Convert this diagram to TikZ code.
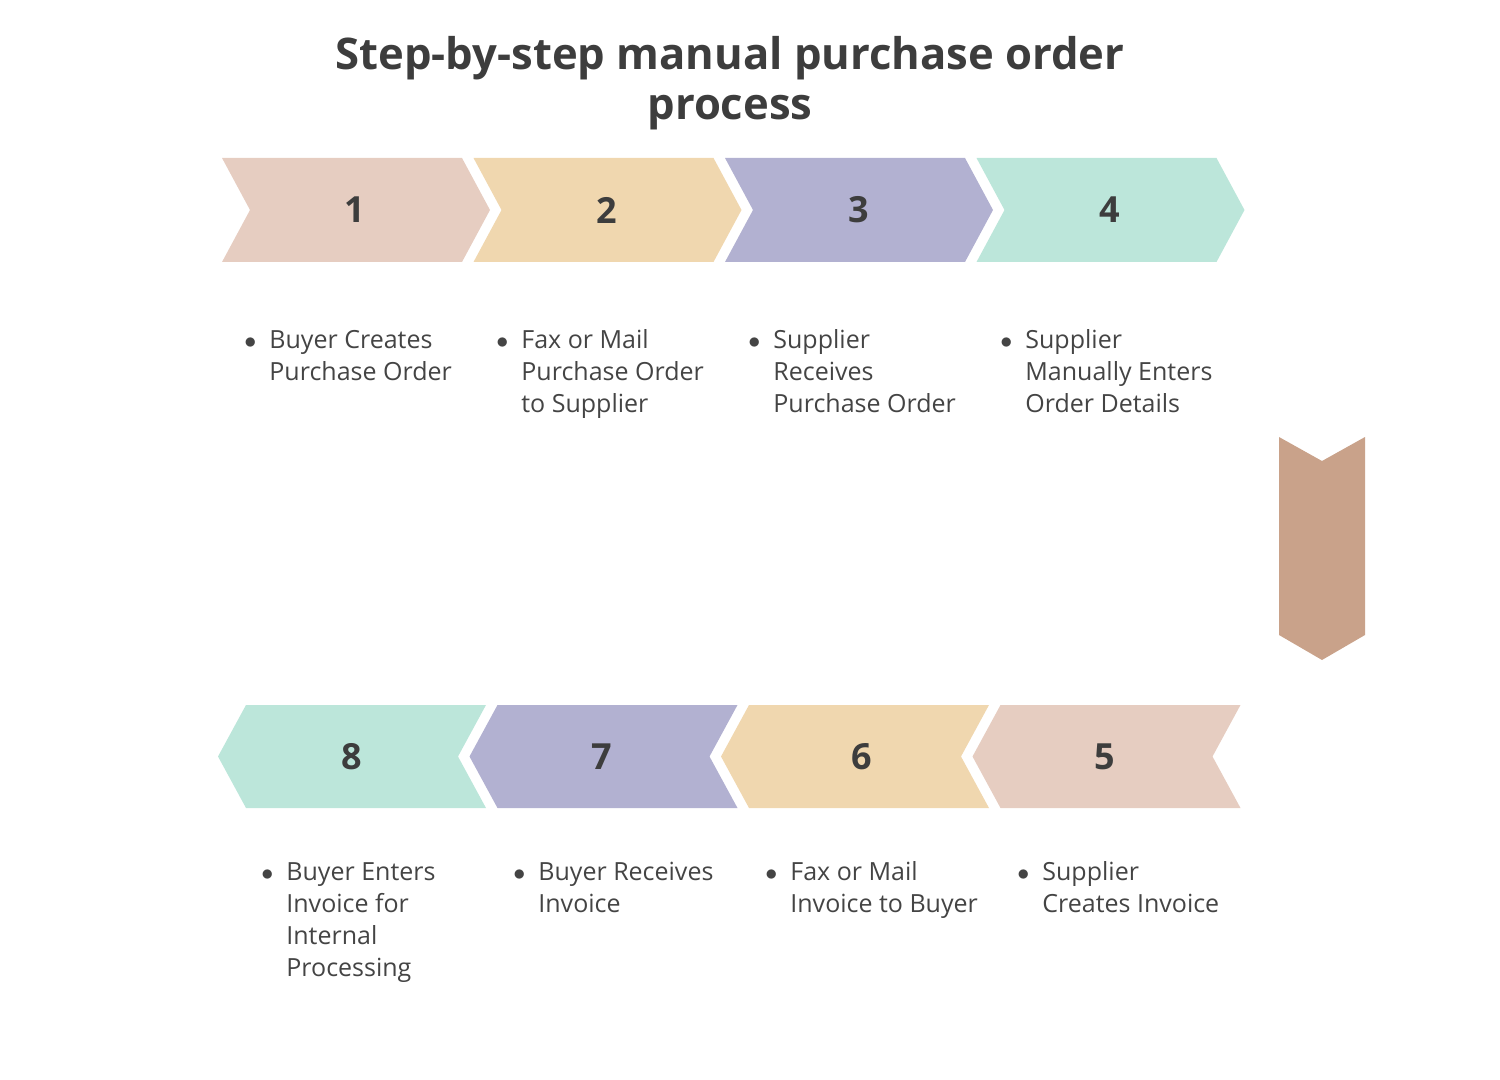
\documentclass[tikz,border=0pt]{standalone}
\usepackage{fontspec}
\setmainfont{Open Sans}
\usetikzlibrary{positioning}
\definecolor{rosebox}{HTML}{E6CDC1}
\definecolor{sandbox}{HTML}{F0D7AF}
\definecolor{lilacbox}{HTML}{B2B1D1}
\definecolor{mintbox}{HTML}{BCE6DA}
\definecolor{claybox}{HTML}{C9A28A}
\definecolor{headgray}{HTML}{3D3D3D}
\definecolor{bodygray}{HTML}{444444}
\newcommand{\blist}[1]{\begin{tabular}[t]{@{}l@{\hspace{6.5pt}}l@{}}$\bullet$ & #1\end{tabular}}

\begin{document}
\begin{tikzpicture}[
    x=0.5pt, y=-0.5pt,
    heading/.style={align=center, font=\fontsize{21.8}{25}\selectfont\bfseries, text=headgray, inner sep=0pt},
    stepnum/.style={font=\fontsize{18}{18}\selectfont\bfseries, text=headgray, inner sep=0pt},
    bullettext/.style={anchor=base west, inner sep=0pt, font=\fontsize{12.5}{16}\selectfont, text=bodygray}]

    \useasboundingbox (0,0) rectangle (1500,1080);

    % Title
    \node[heading, anchor=base] (title) at (730,120) {Step-by-step manual purchase order\\process};

    % Row 1: chevrons pointing right
    \foreach \x/\c/\n/\lx in {222/rosebox/1/355, 473.5/sandbox/2/607, 725/lilacbox/3/859, 976.5/mintbox/4/1110} {
        \fill[\c] (\x,158) -- ++(240,0) -- ++(28,52) -- ++(-28,52) -- ++(-240,0) -- ++(28,-52) -- cycle;
        \node[stepnum] (s\n) at (\lx,210) {\n};
    }

    % Turn down to the second row
    \fill[claybox] (1279,437) -- (1322,461) -- (1365,437) -- (1365,635) -- (1322,660) -- (1279,635) -- cycle;

    % Row 2: chevrons pointing left
    \foreach \x/\c/\n/\lx in {218/mintbox/8/352, 469.5/lilacbox/7/602, 721/sandbox/6/862, 972.5/rosebox/5/1105} {
        \fill[\c] (\x,756.5) -- ++(28,-51.5) -- ++(240,0) -- ++(-28,51.5) -- ++(28,51.5) -- ++(-240,0) -- cycle;
        \node[stepnum] (s\n) at (\lx,756.5) {\n};
    }

    % Descriptions, row 1
    \node[bullettext] (t1) at (244,349) {\blist{Buyer Creates\\ & Purchase Order}};
    \node[bullettext] (t2) at (496,349) {\blist{Fax or Mail\\ & Purchase Order\\ & to Supplier}};
    \node[bullettext] (t3) at (748,349) {\blist{Supplier\\ & Receives\\ & Purchase Order}};
    \node[bullettext] (t4) at (1000,349) {\blist{Supplier\\ & Manually Enters\\ & Order Details}};

    % Descriptions, row 2
    \node[bullettext] (t8) at (261,880) {\blist{Buyer Enters\\ & Invoice for\\ & Internal\\ & Processing}};
    \node[bullettext] (t7) at (513,880) {\blist{Buyer Receives\\ & Invoice}};
    \node[bullettext] (t6) at (765,880) {\blist{Fax or Mail\\ & Invoice to Buyer}};
    \node[bullettext] (t5) at (1017,880) {\blist{Supplier\\ & Creates Invoice}};
\end{tikzpicture}
\end{document}
